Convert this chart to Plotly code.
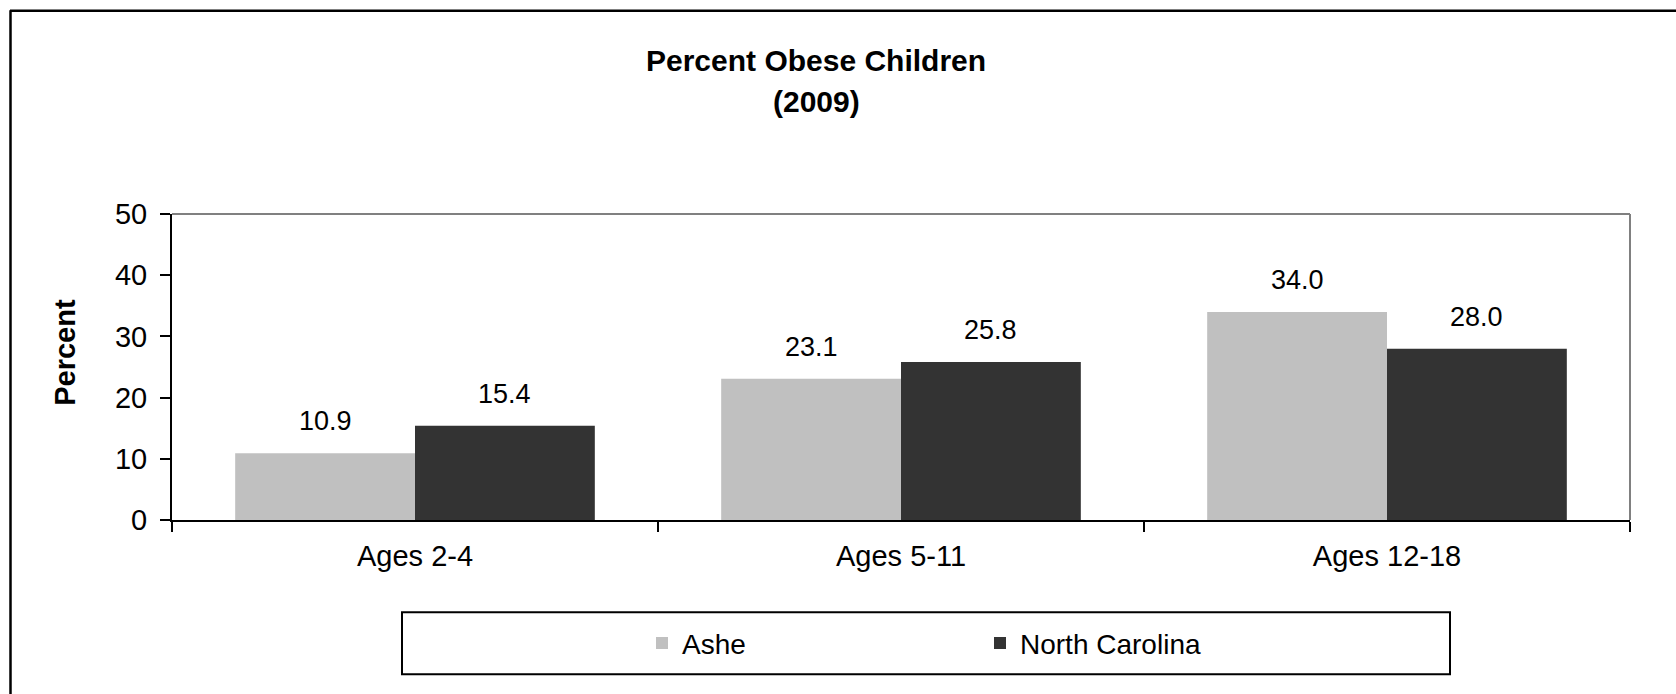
import plotly.graph_objects as go

# Data
categories = ["Ages 2-4", "Ages 5-11", "Ages 12-18"]
ashe = [10.9, 23.1, 34.0]
north_carolina = [15.4, 25.8, 28.0]
series_names = ["Ashe", "North Carolina"]
series_colors = ["#C0C0C0", "#333333"]

W, H = 1676, 694
L, R, T, B = 172, 46, 214, 173.5          # plot-area margins in px
PW, PH = W - L - R, H - T - B
BARGAP = 0.26

def px_x(px):
    return (px - L) / PW

def px_y(py):
    return (H - B - py) / PH

FONT = "Liberation Sans, Arial, sans-serif"

fig = go.Figure()
for name, vals, col in zip(series_names, [ashe, north_carolina], series_colors):
    fig.add_trace(go.Bar(
        name=name, x=categories, y=vals,
        marker=dict(color=col, line=dict(width=0)),
        hoverinfo="x+y",
    ))

# Value labels above each bar
bar_w = PW / len(categories) * (1 - BARGAP) / 2
annotations = []
for k, vals in enumerate([ashe, north_carolina]):
    shift = (k - 0.5) * bar_w
    for c, v in zip(categories, vals):
        annotations.append(dict(
            x=c, y=v, xref="x", yref="y", text=f"{v:.1f}",
            showarrow=False, xshift=shift, yanchor="bottom", yshift=15,
            font=dict(family=FONT, size=27, color="#000000"),
        ))

# Title lines
annotations.append(dict(
    x=px_x(816), y=px_y(60), xref="paper", yref="paper",
    text="<b>Percent Obese Children</b>", showarrow=False,
    xanchor="center", yanchor="middle",
    font=dict(family=FONT, size=30, color="#000000"),
))
annotations.append(dict(
    x=px_x(816), y=px_y(101), xref="paper", yref="paper",
    text="<b>(2009)</b>", showarrow=False,
    xanchor="center", yanchor="middle",
    font=dict(family=FONT, size=30, color="#000000"),
))
# Y axis title
annotations.append(dict(
    x=px_x(65), y=px_y(353), xref="paper", yref="paper",
    text="<b>Percent</b>", showarrow=False, textangle=-90,
    xanchor="center", yanchor="middle",
    font=dict(family=FONT, size=29, color="#000000"),
))

shapes = [
    # gray frame on top and right of plot area
    dict(type="line", xref="paper", yref="paper", x0=0, x1=1, y0=1, y1=1,
         line=dict(color="#808080", width=2)),
    dict(type="line", xref="paper", yref="paper", x0=1, x1=1, y0=0, y1=1,
         line=dict(color="#808080", width=2)),
    # legend box
    dict(type="rect", xref="paper", yref="paper",
         x0=px_x(402), x1=px_x(1450), y0=px_y(675), y1=px_y(613),
         line=dict(color="#000000", width=2), fillcolor="rgba(0,0,0,0)"),
    # outer chart border (top and left edges)
    dict(type="line", xref="paper", yref="paper",
         x0=px_x(10), x1=px_x(W + 5), y0=px_y(10.5), y1=px_y(10.5),
         line=dict(color="#000000", width=2.5)),
    dict(type="line", xref="paper", yref="paper",
         x0=px_x(10.5), x1=px_x(10.5), y0=px_y(10), y1=px_y(H + 5),
         line=dict(color="#000000", width=2.5)),
]

fig.update_layout(
    width=W, height=H,
    margin=dict(l=L, r=R, t=T, b=B, pad=0),
    paper_bgcolor="#FFFFFF", plot_bgcolor="#FFFFFF",
    barmode="group", bargap=BARGAP, bargroupgap=0,
    font=dict(family=FONT, size=28, color="#000000"),
    showlegend=True,
    legend=dict(
        orientation="h", x=px_x(642), y=px_y(644), xanchor="left", yanchor="middle",
        bgcolor="rgba(0,0,0,0)", borderwidth=0,
        font=dict(family=FONT, size=28, color="#000000"),
        entrywidth=293, entrywidthmode="pixels", traceorder="normal",
    ),
    annotations=annotations,
    shapes=shapes,
)

fig.update_xaxes(
    type="category", showgrid=False, zeroline=False,
    showline=True, linecolor="#000000", linewidth=2,
    ticks="outside", tickson="boundaries", ticklen=10, tickwidth=2, tickcolor="#000000",
    tickfont=dict(family=FONT, size=29, color="#000000"),
    ticklabelstandoff=9,
)
fig.update_yaxes(
    range=[0, 50], dtick=10, showgrid=False, zeroline=False,
    showline=True, linecolor="#000000", linewidth=2,
    ticks="outside", ticklen=10, tickwidth=2, tickcolor="#000000",
    tickfont=dict(family=FONT, size=29, color="#000000"),
    ticklabelstandoff=7,
)

fig.write_html("out.html")
